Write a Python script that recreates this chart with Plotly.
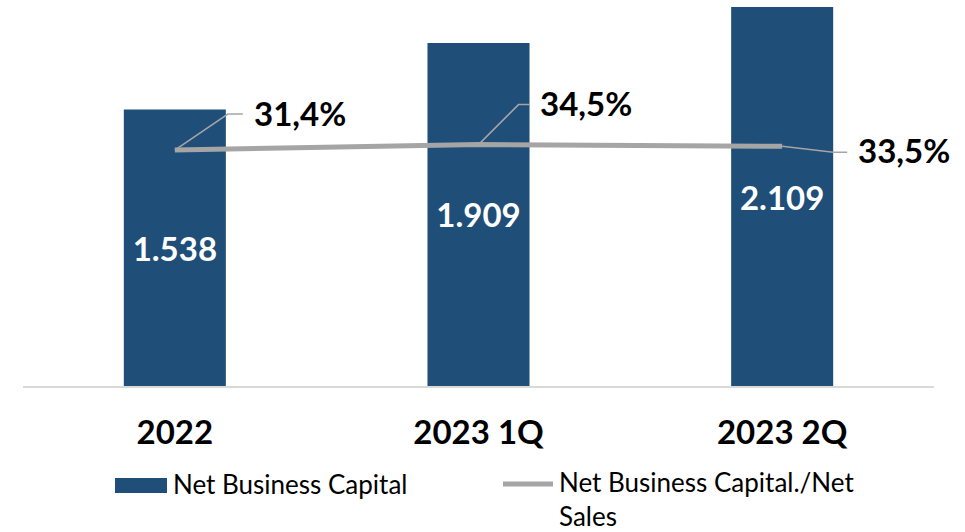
import plotly.graph_objects as go

# Chart data
categories = ["2022", "2023 1Q", "2023 2Q"]
net_business_capital = [1538, 1909, 2109]
nbc_to_net_sales = [0.314, 0.345, 0.335]

BAR_COLOR = "#1F4E79"
LINE_COLOR = "#A5A5A5"
FONT = "Lato"

W, H = 965, 532
ML, MR, MT, MB = 23, 31, 0, 146
PW, PH = W - ML - MR, H - MT - MB


def px_x(p):
    return (p - ML) / PW


def px_y(p):
    return (H - MB - p) / PH


def pct(v):
    return f"{v * 100:.1f}%".replace(".", ",")


fig = go.Figure()

fig.add_trace(go.Bar(
    x=categories, y=net_business_capital, name="Net Business Capital",
    marker=dict(color=BAR_COLOR, line=dict(width=0)),
    texttemplate="%{y:,.0f}", textposition="inside", insidetextanchor="middle",
    textfont=dict(family=FONT, size=33, color="white", weight="bold"),
    textangle=0, showlegend=False,
))

fig.add_trace(go.Scatter(
    x=categories, y=nbc_to_net_sales, yaxis="y2", mode="lines",
    name="Net Business Capital./Net Sales",
    line=dict(color=LINE_COLOR, width=5), showlegend=False,
))

# Percentage labels with elbow leader lines, placed relative to each point
# (category positions are given by index so "2022" is not read as a number)
label_offsets = [(77, 37), (59, 42), (74, -4)]
leader_paths = [
    "M0,0 L53,36 L68,36",
    "M2,2 L40,40 L51,40",
    "M0,0 L51,-6 L65,-6",
]
for i, (val, (dx, dy), path) in enumerate(zip(nbc_to_net_sales, label_offsets, leader_paths)):
    fig.add_annotation(
        x=i, y=val, xref="x", yref="y2", text=pct(val), showarrow=False,
        xanchor="left", yanchor="middle", xshift=dx, yshift=dy,
        font=dict(family=FONT, size=33, color="black", weight="bold"),
    )
    fig.add_shape(
        type="path", xref="x", yref="y2", xsizemode="pixel", ysizemode="pixel",
        xanchor=i, yanchor=val, path=path,
        line=dict(color=LINE_COLOR, width=1.5),
    )

# Legend drawn below the category labels
fig.add_shape(type="rect", xref="paper", yref="paper",
              x0=px_x(115), x1=px_x(167), y0=px_y(493), y1=px_y(478),
              fillcolor=BAR_COLOR, line=dict(width=0))
fig.add_annotation(xref="paper", yref="paper", x=px_x(171), y=px_y(484),
                   text="Net Business Capital", showarrow=False,
                   xanchor="left", yanchor="middle",
                   font=dict(family=FONT, size=26, color="black"))
fig.add_shape(type="line", xref="paper", yref="paper",
              x0=px_x(503), x1=px_x(553), y0=px_y(484), y1=px_y(484),
              line=dict(color=LINE_COLOR, width=5))
fig.add_annotation(xref="paper", yref="paper", x=px_x(558), y=px_y(484),
                   text="Net Business Capital./Net<br>Sales", showarrow=False,
                   xanchor="left", yanchor="top", align="left",
                   yshift=19, borderpad=0,
                   font=dict(family=FONT, size=26, color="black"))

fig.update_layout(
    width=W, height=H,
    margin=dict(l=ML, r=MR, t=MT, b=MB),
    paper_bgcolor="white", plot_bgcolor="white",
    separators=",.",
    bargap=0.664,
    showlegend=False,
    xaxis=dict(
        type="category", categoryorder="array", categoryarray=categories,
        range=[-0.5, len(categories) - 0.5], autorange=False,
        showgrid=False, showline=True, linecolor="#D9D9D9", linewidth=2,
        ticks="", ticklabelstandoff=16,
        tickfont=dict(family=FONT, size=33, color="black", weight="bold"),
    ),
    yaxis=dict(range=[0, PH / 0.1797], visible=False, showgrid=False),
    yaxis2=dict(range=[-1.042, 1.176], overlaying="y", visible=False, showgrid=False),
)

fig.write_html("out.html")
